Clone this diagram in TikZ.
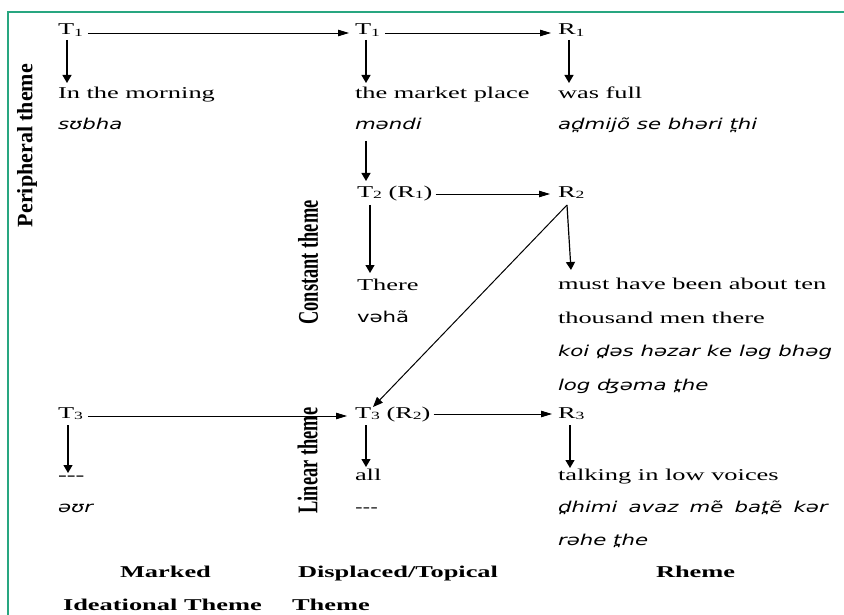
\documentclass[tikz,border=0pt]{standalone}
\usepackage{graphicx}
\usepackage{fontspec}
\usetikzlibrary{arrows.meta}
\newfontfamily\ser{Liberation Serif}
\newfontfamily\tr{DejaVu Sans}
\definecolor{frame}{RGB}{40,166,128}
\newcommand{\SR}[1]{\scalebox{1.6}[1]{\ser #1}}
\newcommand{\SB}[1]{\scalebox{1.6}[1]{\ser\bfseries #1}}
\newcommand{\IT}[1]{\scalebox{1.42}[1]{\fontsize{15}{17}\selectfont\tr\itshape #1}}
\newcommand{\UP}[1]{\scalebox{1.42}[1]{\fontsize{15}{17}\selectfont\tr #1}}
\newcommand{\sub}[1]{\raisebox{-1.2pt}{\fontsize{11}{11}\selectfont #1}}
\tikzset{
  lbl/.style={anchor=base west, inner sep=0pt, outer sep=0pt, font=\fontsize{16.5}{18}\selectfont},
  vlbl/.style={anchor=center, inner sep=0pt, outer sep=0pt, rotate=90},
  harr/.style={-{Triangle[length=11pt,width=6.5pt]}, line width=0.9pt},
  varr/.style={-{Triangle[length=8pt,width=9pt]}, line width=1.2pt},
  darr/.style={-{Triangle[length=10pt,width=8pt]}, line width=1pt},
  frameline/.style={draw=frame, line width=2.4pt}
}
\begin{document}
\begin{tikzpicture}[x=1pt,y=-1pt]
\useasboundingbox (0,0) rectangle (844,615);
\draw[frameline] (8,615) -- (8,12) -- (844,12);

% row 1
\node[lbl] (t1a) at (58,35) {\SR{T\sub{1}}};
\node[lbl] (t1b) at (355,35) {\SR{T\sub{1}}};
\node[lbl] (r1) at (558,35) {\SR{R\sub{1}}};
% row 2
\node[lbl] (morn) at (58,99) {\SR{In the morning}};
\node[lbl] (mkt) at (355,99) {\SR{the market place}};
\node[lbl] (full) at (558,99) {\SR{was full}};
\node[lbl] (subha) at (58,130) {\IT{sʊbha}};
\node[lbl] (mandi) at (355,130) {\IT{məndi}};
\node[lbl] (admi) at (558,130) {\IT{ad̪mijõ se bhəri t̪hi}};
% row T2
\node[lbl] (t2) at (357,197) {\SR{T\sub{2} (R\sub{1})}};
\node[lbl] (r2) at (558,197) {\SR{R\sub{2}}};
\node[lbl] (there) at (357,290) {\SR{There}};
\node[lbl] (vaha) at (357,322) {\UP{vəhã}};
\node[lbl] (must) at (558,289) {\SR{must have been about ten}};
\node[lbl] (thou) at (558,323) {\SR{thousand men there}};
\node[lbl] (koi) at (558,356) {\IT{koi d̪əs həzar ke ləg bhəg}};
\node[lbl] (log) at (558,390) {\IT{log ʤəma t̪he}};
% row T3
\node[lbl] (t3a) at (58,418) {\SR{T\sub{3}}};
\node[lbl] (t3b) at (355,418) {\SR{T\sub{3} (R\sub{2})}};
\node[lbl] (r3) at (558,418) {\SR{R\sub{3}}};
\node[lbl] (dash1) at (58,480) {\SR{---}};
\node[lbl] (all) at (355,480) {\SR{all}};
\node[lbl] (talk) at (558,480) {\SR{talking in low voices}};
\node[lbl] (aur) at (58,512) {\IT{əʊr}};
\node[lbl] (dash2) at (355,512) {\UP{---}};
\node[lbl] (dhimi) at (558,512) {\IT{\makebox[190pt][s]{d̪himi avaz mẽ bat̪ẽ kər}}};
\node[lbl] (rahe) at (558,545) {\IT{rəhe t̪he}};
% bottom labels
\node[lbl] (marked) at (120,577) {\SB{Marked}};
\node[lbl] (disp) at (298,577) {\SB{Displaced/Topical}};
\node[lbl] (rheme) at (656,577) {\SB{Rheme}};
\node[lbl] (idea) at (63,610) {\SB{Ideational Theme}};
\node[lbl] (theme) at (292,610) {\SB{Theme}};

% horizontal arrows
\draw[harr] ([shift={(5pt,2pt)}]t1a.base east) -- ([shift={(-6pt,2pt)}]t1b.base west);
\draw[harr] ([shift={(5pt,2pt)}]t1b.base east) -- ([shift={(-7pt,2pt)}]r1.base west);
\draw[harr] ([shift={(3pt,3pt)}]t2.base east) -- ([shift={(-8pt,3pt)}]r2.base west);
\draw[harr] ([shift={(5pt,2pt)}]t3a.base east) -- ([shift={(-8pt,2pt)}]t3b.base west);
\draw[harr] ([shift={(3pt,4pt)}]t3b.base east) -- ([shift={(-6pt,4pt)}]r3.base west);

% vertical arrows
\draw[varr] ([shift={(9pt,-5pt)}]t1a.base west) -- ([shift={(9pt,16pt)}]morn.base west);
\draw[varr] ([shift={(11pt,-5pt)}]t1b.base west) -- ([shift={(11pt,16pt)}]mkt.base west);
\draw[varr] ([shift={(11pt,-5pt)}]r1.base west) -- ([shift={(11pt,16pt)}]full.base west);
\draw[varr] ([shift={(11pt,-11pt)}]mandi.base west) -- ([shift={(9pt,16pt)}]t2.base west);
\draw[varr] ([shift={(13pt,-8pt)}]t2.base west) -- ([shift={(13pt,17pt)}]there.base west);
\draw[varr] ([shift={(9pt,-8pt)}]r2.base west) -- ([shift={(13pt,19pt)}]must.base west);
\draw[darr] ([shift={(9pt,-8pt)}]r2.base west) -- ([shift={(18pt,11pt)}]t3b.base west);
\draw[varr] ([shift={(10pt,-7pt)}]t3a.base west) -- ([shift={(10pt,7pt)}]dash1.base west);
\draw[varr] ([shift={(11pt,-7pt)}]t3b.base west) -- ([shift={(11pt,13pt)}]all.base west);
\draw[varr] ([shift={(12pt,-7pt)}]r3.base west) -- ([shift={(12pt,12pt)}]talk.base west);

% vertical labels
\node[vlbl] (periph) at (27,145.5) {\fontsize{22}{24}\selectfont\ser\bfseries Peripheral theme};
\node[vlbl] (const) at (308,262.5) {\scalebox{1}[1.55]{\fontsize{18.4}{20}\selectfont\ser\bfseries Constant theme}};
\node[vlbl] (linear) at (307.5,460.5) {\scalebox{1}[1.55]{\fontsize{18.4}{20}\selectfont\ser\bfseries Linear theme}};
\end{tikzpicture}
\end{document}
